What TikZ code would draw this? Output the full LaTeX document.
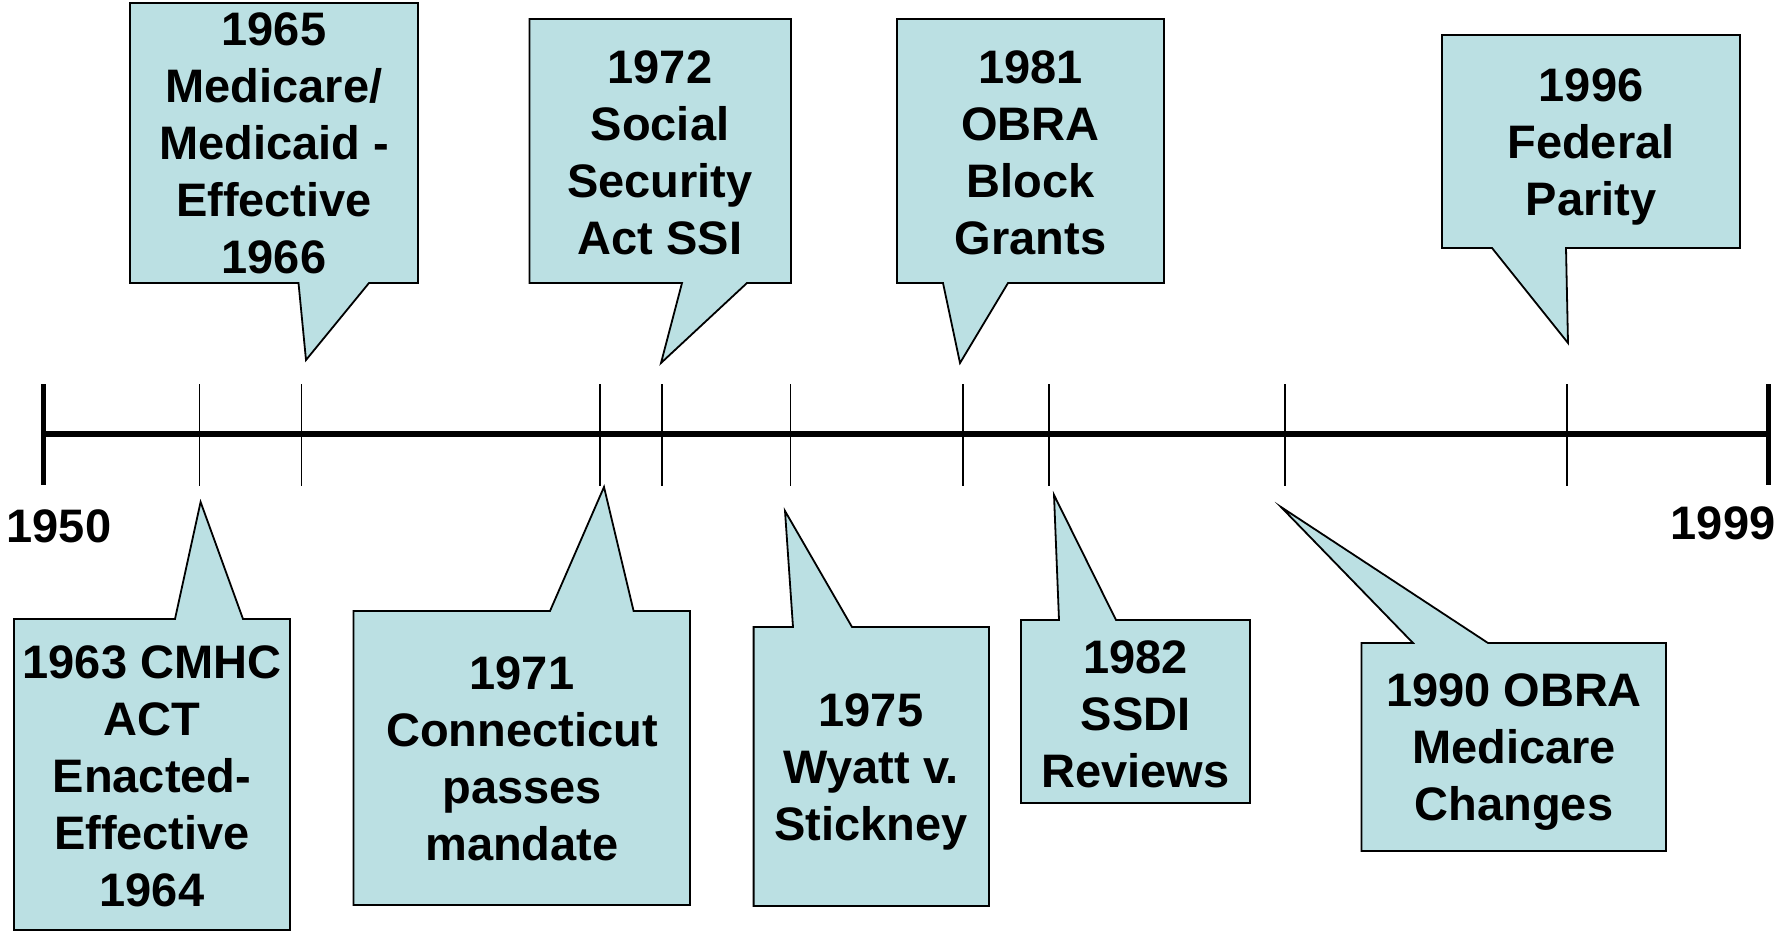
\documentclass[tikz,border=0pt]{standalone}
\usepackage{fontspec}
\setmainfont{Liberation Sans}
\definecolor{calloutfill}{HTML}{BBE0E3}
\begin{document}
\begin{tikzpicture}[x=1pt,y=-1pt,
  lbl/.style={font=\fontsize{47}{57}\selectfont\bfseries, align=center,
    inner sep=0pt, outer sep=0pt, text depth=0pt},
  yearlbl/.style={font=\fontsize{47}{57}\selectfont\bfseries, inner sep=0pt, anchor=base},
  callout/.style={draw=black, line width=1.8pt, fill=calloutfill, line join=miter},
  axisline/.style={line width=5.5pt},
  endbar/.style={line width=5pt},
  tickmark/.style={line width=1.6pt}]
\useasboundingbox (0,0) rectangle (1775,931);

% ---- time axis ----
\coordinate (start) at (43,434);
\coordinate (end) at (1768,434);
\draw[axisline] (start) -- (end);
\draw[endbar] (43,384) -- (43,485);
\draw[endbar] (1768,384) -- (1768,485);
\foreach \x/\n in {199.5/k1963, 301.5/k1965, 600/k1971, 662/k1972, 790.5/k1975,
                   963/k1981, 1049/k1982, 1285/k1990, 1567/k1996}
  \draw[tickmark] (\x,384) -- (\x,486) coordinate (\n);

\node[yearlbl] (y1950) at (59,542) {1950};
\node[yearlbl] (y1999) at (1723,539) {1999};

% ---- callouts above the axis (pointer on the bottom edge) ----
\coordinate (t1965) at (306,360);
\path[callout] (130,3) -- (418,3) -- (418,283) -- (369,283) -- (t1965) -- (298.5,283) -- (130,283) -- cycle;
\node[lbl] (n1965) at (274,143) {1965\\Medicare/\\Medicaid -\\Effective\\1966};

\coordinate (t1972) at (661,363);
\path[callout] (529.5,19) -- (791,19) -- (791,283) -- (747,283) -- (t1972) -- (682,283) -- (529.5,283) -- cycle;
\node[lbl] (n1972) at (660,152.5) {1972\\Social\\Security\\Act SSI};

\coordinate (t1981) at (960,363);
\path[callout] (897,19) -- (1164,19) -- (1164,283) -- (1008,283) -- (t1981) -- (943,283) -- (897,283) -- cycle;
\node[lbl] (n1981) at (1030.5,152.5) {1981\\OBRA\\Block\\Grants};

\coordinate (t1996) at (1568,343);
\path[callout] (1442,35) -- (1740,35) -- (1740,248) -- (1566,248) -- (t1996) -- (1492,248) -- (1442,248) -- cycle;
\node[lbl] (n1996) at (1591,142) {1996\\Federal\\Parity};

% ---- callouts below the axis (pointer on the top edge) ----
\coordinate (t1963) at (200.6,502);
\path[callout] (14,619) -- (175,619) -- (t1963) -- (243,619) -- (290,619) -- (290,930) -- (14,930) -- cycle;
\node[lbl] (n1963) at (152,776) {1963 CMHC\\ACT\\Enacted-\\Effective\\1964};

\coordinate (t1971) at (604,487);
\path[callout] (353.5,611) -- (550,611) -- (t1971) -- (633.6,611) -- (690,611) -- (690,905) -- (353.5,905) -- cycle;
\node[lbl] (n1971) at (522,758.5) {1971\\Connecticut\\passes\\mandate};

\coordinate (t1975) at (785,511);
\path[callout] (753.6,627) -- (793,627) -- (t1975) -- (852,627) -- (989,627) -- (989,906) -- (753.6,906) -- cycle;
\node[lbl] (n1975) at (871,767) {1975\\Wyatt v.\\Stickney};

\coordinate (t1982) at (1054,495);
\path[callout] (1021,620) -- (1059,620) -- (t1982) -- (1116,620) -- (1250,620) -- (1250,803) -- (1021,803) -- cycle;
\node[lbl] (n1982) at (1135.5,714) {1982\\SSDI\\Reviews};

\coordinate (t1990) at (1281,507);
\path[callout] (1361.5,643) -- (1413,643) -- (t1990) -- (1488,643) -- (1666,643) -- (1666,851) -- (1361.5,851) -- cycle;
\node[lbl] (n1990) at (1514,747) {1990 OBRA\\Medicare\\Changes};
\end{tikzpicture}
\end{document}
